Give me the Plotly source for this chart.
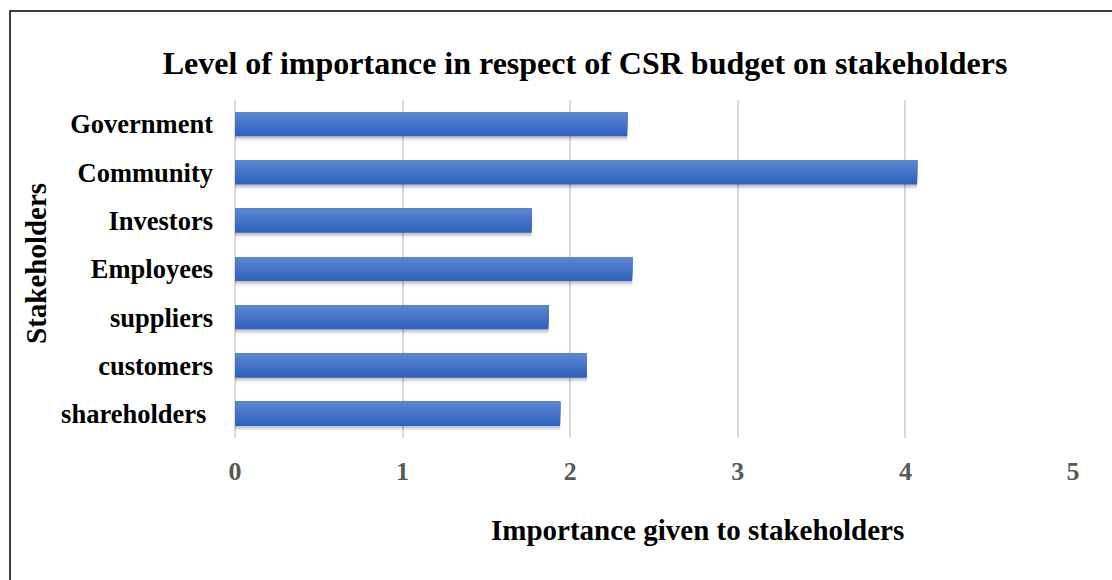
import plotly.graph_objects as go

# Stakeholder groups (bottom to top) and their importance scores
stakeholders = ["shareholders\u00a0", "customers", "suppliers", "Employees",
                "Investors", "Community", "Government"]
importance = [1.94, 2.10, 1.87, 2.37, 1.77, 4.07, 2.34]

x_ticks = [0, 1, 2, 3, 4, 5]

FONT = "Liberation Serif"
BAR_W = 0.5

fig = go.Figure()

# soft drop shadow under each bar
for k, alpha in enumerate([0.05, 0.08, 0.11]):
    fig.add_trace(go.Bar(
        y=stakeholders, x=importance, orientation="h",
        width=BAR_W, offset=-BAR_W / 2 - 0.10 + k * 0.03,
        marker=dict(color=f"rgba(0,0,0,{alpha})", line=dict(width=0)),
        hoverinfo="skip", showlegend=False,
    ))

# bars filled as stacked layers: dark blue at the bottom, lighter towards the top;
# each layer runs up to the bar's top edge so no seams appear between them
bottom_rgb = (47, 98, 190)
top_rgb = (93, 133, 208)
n_bands = 12
for k in range(n_bands):
    t = k / (n_bands - 1)
    r, g, b = (round(bottom_rgb[i] + (top_rgb[i] - bottom_rgb[i]) * t) for i in range(3))
    start = -BAR_W / 2 + k * BAR_W / n_bands
    fig.add_trace(go.Bar(
        y=stakeholders, x=importance, orientation="h",
        width=BAR_W / 2 - start,
        offset=start,
        marker=dict(color=f"rgb({r},{g},{b})", line=dict(width=0)),
        hovertemplate="%{y}: %{x}<extra></extra>", showlegend=False,
    ))

fig.update_layout(
    width=1112, height=580,
    margin=dict(l=235, r=39, t=100, b=142),
    paper_bgcolor="white", plot_bgcolor="white",
    barmode="overlay",
    font=dict(family=FONT, color="black"),
    title=dict(
        text="<b>Level of importance in respect of CSR budget on stakeholders</b>",
        font=dict(size=32, family=FONT, color="black"),
        x=(585 - 235) / 838, xref="paper", xanchor="center",
        y=1 - 63 / 580, yanchor="middle",
    ),
    xaxis=dict(
        range=[0, 5], tickvals=x_ticks, ticktext=[f"<b>{v}</b>" for v in x_ticks],
        tickfont=dict(size=26, family=FONT, color="#595959"),
        showgrid=True, gridcolor="#D9D9D9", gridwidth=1.5,
        zeroline=True, zerolinecolor="#D9D9D9", zerolinewidth=1.5,
        showline=False, ticks="", ticklabelstandoff=15, fixedrange=True,
    ),
    yaxis=dict(
        tickvals=stakeholders, ticktext=[f"<b>{s}</b>" for s in stakeholders],
        tickfont=dict(size=26.5, family=FONT, color="black"),
        showgrid=False, showline=False, ticks="", ticklabelstandoff=21,
        range=[-0.5, len(stakeholders) - 0.5], fixedrange=True,
    ),
    annotations=[
        dict(text="<b>Importance given to stakeholders</b>",
             xref="paper", yref="paper", x=(697 - 235) / 838, y=(438 - 530) / 338,
             xanchor="center", yanchor="middle", showarrow=False,
             font=dict(size=29, family=FONT, color="black")),
        dict(text="<b>Stakeholders</b>", textangle=-90,
             xref="paper", yref="paper", x=(36 - 235) / 838, y=(438 - 264) / 338,
             xanchor="center", yanchor="middle", showarrow=False,
             font=dict(size=29, family=FONT, color="black")),
    ],
    shapes=[
        # outer frame of the chart (its right and bottom sides lie past the page edge)
        dict(type="rect", xref="paper", yref="paper",
             x0=(10 - 235) / 838, x1=1.2, y0=-0.6, y1=(438 - 11) / 338,
             line=dict(color="black", width=1.5), fillcolor="rgba(0,0,0,0)",
             layer="above"),
    ],
)

fig.write_html("out.html")
